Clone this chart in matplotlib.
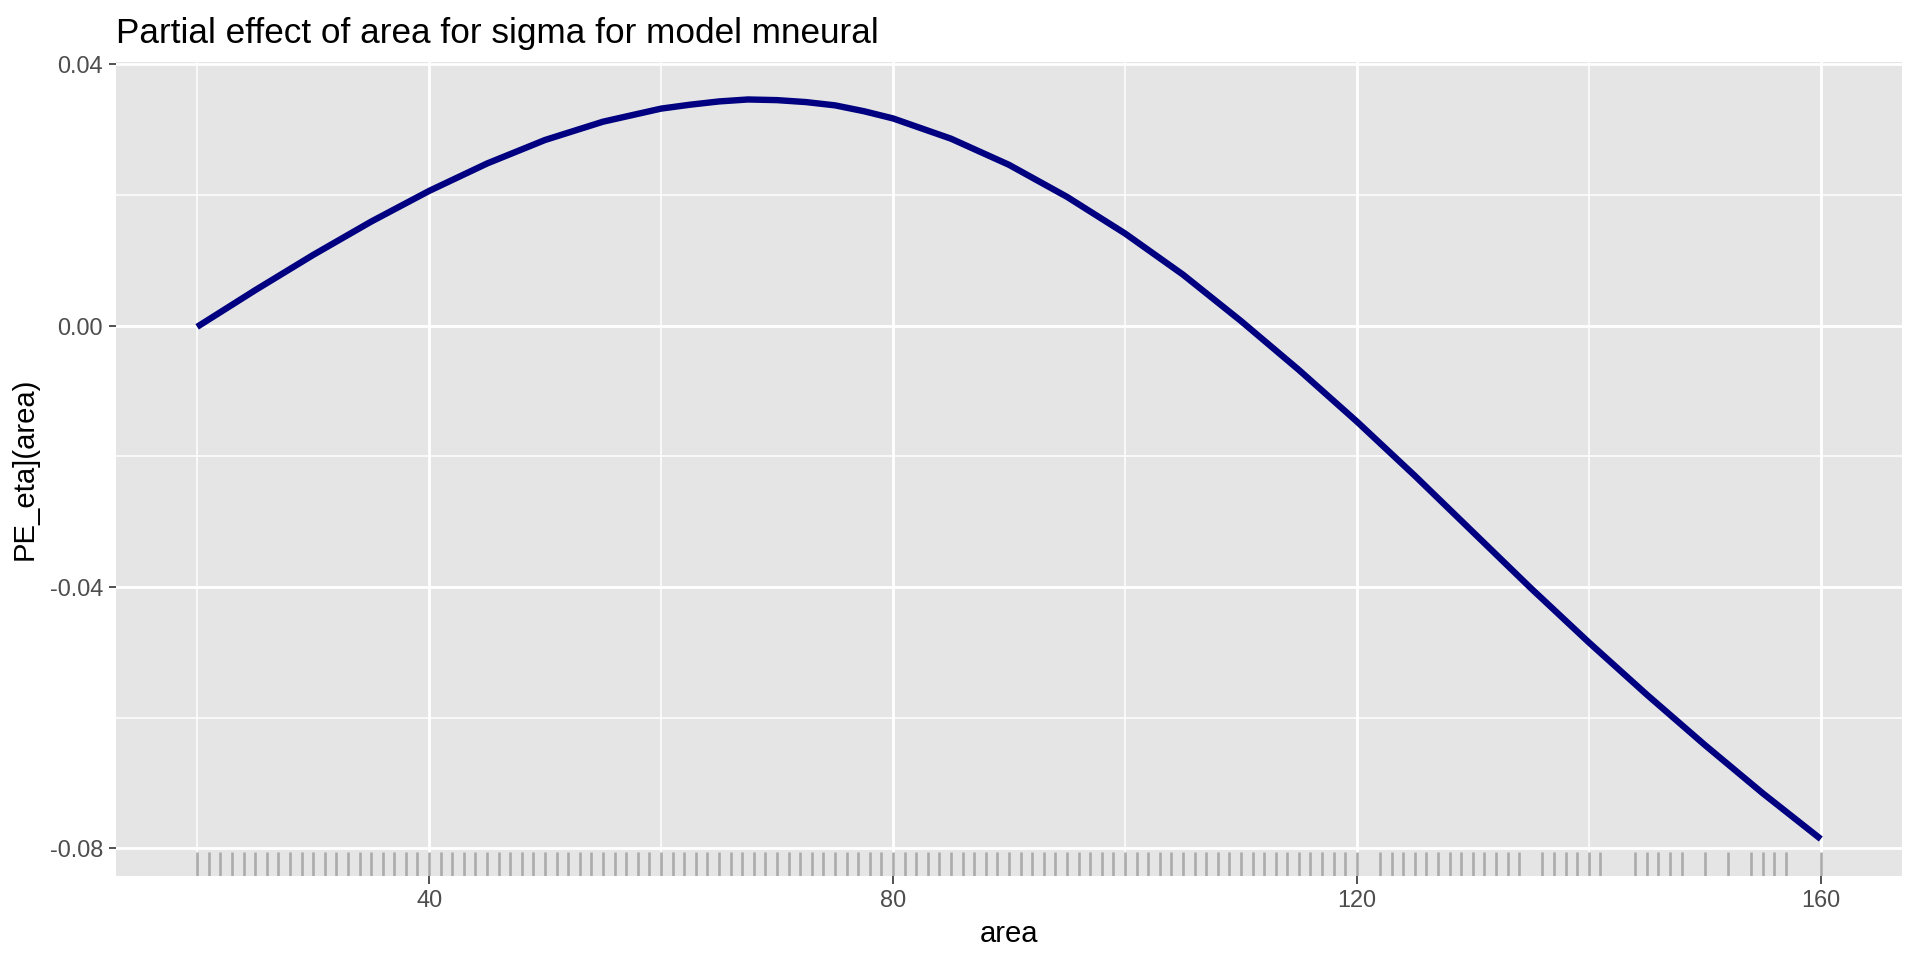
import matplotlib
matplotlib.use("Agg")
import matplotlib.pyplot as plt

plt.rcParams['font.family'] = ['Liberation Sans', 'DejaVu Sans']

# curve
area_curve = [20, 25, 30, 35, 40, 45, 50, 55, 60, 62.5, 65, 67.5, 70, 72.5,
              75, 77.5, 80, 85, 90, 95, 100, 105, 110, 115, 120, 125, 130,
              135, 140, 145, 150, 155, 160]
pe_curve = [-0.0002, 0.0054, 0.0108, 0.0159, 0.0206, 0.0248, 0.0284, 0.0312,
            0.0332, 0.0338, 0.0343, 0.0346, 0.0345, 0.0342, 0.0337, 0.0328,
            0.0317, 0.0286, 0.0246, 0.0197, 0.0141, 0.0078, 0.0007, -0.0068,
            -0.0147, -0.0230, -0.0316, -0.0402, -0.0485, -0.0565, -0.0642,
            -0.0716, -0.0786]

# rug (observed area values)
rug_area = list(range(20, 121)) + [122, 123, 124, 125, 126, 127, 128, 129, 130,
                                   131, 132, 133, 134, 136, 137, 138, 139, 140,
                                   141, 144, 145, 146, 147, 148, 150, 152, 154,
                                   155, 156, 157, 160]

x_major = [40, 80, 120, 160]
x_minor = [20, 60, 100, 140]
y_major = [0.04, 0.00, -0.04, -0.08]
y_minor = [0.02, -0.02, -0.06]
y_labels = ["0.04", "0.00", "-0.04", "-0.08"]

fig = plt.figure(figsize=(9.6, 4.8), dpi=200)
ax = fig.add_axes([0.0604, 0.0875, 0.9302, 0.8474])
ax.set_facecolor('#E5E5E5')
for s in ax.spines.values():
    s.set_visible(False)

ymin, ymax = min(pe_curve), max(pe_curve)
yr = ymax - ymin
ax.set_ylim(ymin - 0.05 * yr, ymax + 0.05 * yr)
ax.set_xlim(20 - 0.05 * 140, 160 + 0.05 * 140)

for v in x_minor:
    ax.axvline(v, color='white', lw=0.55, zorder=0.5)
for v in y_minor:
    ax.axhline(v, color='white', lw=0.55, zorder=0.5)
for v in x_major:
    ax.axvline(v, color='white', lw=1.0, zorder=0.6)
for v in y_major:
    ax.axhline(v, color='white', lw=1.0, zorder=0.6)

# rug
trans = ax.get_xaxis_transform()
for a in rug_area:
    ax.plot([a, a], [0, 0.03], transform=trans, color='#ABABAB', lw=0.95,
            solid_capstyle='butt', zorder=1)

ax.plot(area_curve, pe_curve, color='#000080', lw=2.3, zorder=2,
        solid_capstyle='butt', solid_joinstyle='round')

ax.set_xticks(x_major)
ax.set_xticklabels([str(v) for v in x_major])
ax.set_yticks(y_major)
ax.set_yticklabels(y_labels)
ax.tick_params(axis='both', colors='#333333', labelcolor='#4D4D4D',
               labelsize=8.45, length=2.7, width=0.6, pad=2)

ax.set_xlabel('area', fontsize=10.55, color='black', labelpad=3)
ax.set_ylabel('PE_eta](area)', fontsize=10.55, color='black', labelpad=4)
ax.set_title('Partial effect of area for sigma for model mneural',
             fontsize=12.65, loc='left', pad=7, color='black')

fig.savefig('out.png', dpi=200, facecolor='white')
